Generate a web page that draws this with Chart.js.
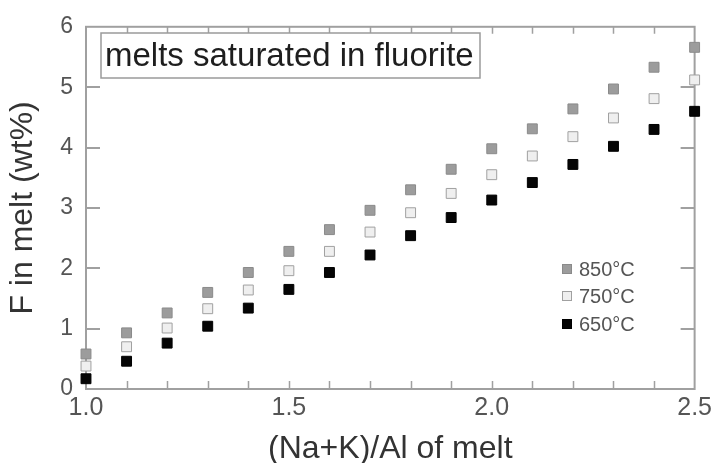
<!DOCTYPE html>
<html>
<head>
<meta charset="utf-8">
<script src="https://cdn.jsdelivr.net/npm/chart.js@4.4.0/dist/chart.umd.min.js"></script>
<style>
  html, body { margin: 0; padding: 0; background: #fff; }
  #wrap { width: 716px; height: 463px; position: relative; }
</style>
</head>
<body>
<div id="wrap"><canvas id="c" width="716" height="463"></canvas></div>
<script>
// ---- data ----
const ratios = [1.0, 1.1, 1.2, 1.3, 1.4, 1.5, 1.6, 1.7, 1.8, 1.9, 2.0, 2.1, 2.2, 2.3, 2.4, 2.5];
const f850 = [0.58, 0.93, 1.26, 1.60, 1.93, 2.28, 2.64, 2.96, 3.30, 3.64, 3.98, 4.31, 4.64, 4.97, 5.33, 5.66];
const f750 = [0.38, 0.70, 1.01, 1.33, 1.64, 1.96, 2.28, 2.60, 2.92, 3.24, 3.55, 3.86, 4.18, 4.49, 4.81, 5.12];
const f650 = [0.17, 0.46, 0.76, 1.04, 1.34, 1.65, 1.93, 2.22, 2.54, 2.84, 3.13, 3.42, 3.72, 4.02, 4.30, 4.60];
const seriesNames = ['850°C', '750°C', '650°C'];
const xLabelTicks = [1.0, 1.5, 2.0, 2.5];
const annotationText = 'melts saturated in fluorite';
const xTitle = '(Na+K)/Al of melt';
const yTitle = 'F in melt (wt%)';

const pts = (ys) => ratios.map((x, i) => ({ x: x, y: ys[i] }));

const styles = [
  { bg: '#9c9c9c', border: '#8a8a8a' },
  { bg: '#efefef', border: '#a0a0a0' },
  { bg: '#050505', border: '#000000' }
];

const axisColor = '#a0a0a0';
const FONT = '"Liberation Sans", Arial, sans-serif';

const framePlugin = {
  id: 'frame',
  beforeDatasetsDraw(chart) {
    const { ctx, chartArea: a, scales } = chart;
    const xs = scales.x, ys = scales.y;
    ctx.save();
    ctx.strokeStyle = axisColor;
    ctx.lineWidth = 2;
    ctx.strokeRect(a.left, a.top, a.right - a.left, a.bottom - a.top);
    // inward ticks x (every 0.1)
    ctx.lineWidth = 1.5;
    for (let i = 1; i < ratios.length - 1; i++) {
      const px = Math.round(xs.getPixelForValue(ratios[i])) + 0.5;
      ctx.beginPath();
      ctx.moveTo(px, a.bottom); ctx.lineTo(px, a.bottom - 8);
      ctx.moveTo(px, a.top); ctx.lineTo(px, a.top + 7);
      ctx.stroke();
    }
    // inward ticks y
    ctx.lineWidth = 2;
    for (let v = 1; v < 6; v++) {
      const py = Math.round(ys.getPixelForValue(v));
      ctx.beginPath();
      ctx.moveTo(a.left, py); ctx.lineTo(a.left + 14, py);
      ctx.moveTo(a.right, py); ctx.lineTo(a.right - 14, py);
      ctx.stroke();
    }
    // annotation box
    ctx.fillStyle = '#ffffff';
    ctx.fillRect(101, 33, 379, 45);
    ctx.strokeStyle = '#9a9a9a';
    ctx.lineWidth = 1.5;
    ctx.strokeRect(101, 33, 379, 45);
    ctx.fillStyle = '#1e1e1e';
    ctx.font = '33px ' + FONT;
    ctx.textBaseline = 'middle';
    ctx.textAlign = 'left';
    ctx.fillText(annotationText, 105, 57);
    // legend
    const ly = [269, 296, 324];
    ctx.font = '20px ' + FONT;
    for (let i = 0; i < 3; i++) {
      ctx.fillStyle = styles[i].bg;
      ctx.strokeStyle = styles[i].border;
      ctx.lineWidth = 1;
      ctx.fillRect(562, ly[i] - 4.5, 9, 9);
      ctx.strokeRect(562.5, ly[i] - 4.5, 9, 9);
      ctx.fillStyle = '#555555';
      ctx.fillText(seriesNames[i], 579, ly[i] + 1);
    }
    ctx.restore();
  }
};

new Chart(document.getElementById('c'), {
  type: 'scatter',
  data: {
    datasets: [
      { label: seriesNames[0], data: pts(f850), backgroundColor: styles[0].bg, borderColor: styles[0].border, clip: false },
      { label: seriesNames[1], data: pts(f750), backgroundColor: styles[1].bg, borderColor: styles[1].border, clip: false },
      { label: seriesNames[2], data: pts(f650), backgroundColor: styles[2].bg, borderColor: styles[2].border, clip: false }
    ]
  },
  options: {
    responsive: false,
    animation: false,
    devicePixelRatio: 1,
    layout: { padding: { left: 0, top: 14, right: 21, bottom: 0 } },
    elements: { point: { pointStyle: 'rect', radius: 7, borderWidth: 1, hoverRadius: 7 } },
    plugins: { legend: { display: false }, tooltip: { enabled: false } },
    scales: {
      x: {
        type: 'linear', min: 1.0, max: 2.5,
        afterFit(s) { s.height = 74; },
        afterBuildTicks(s) { s.ticks = xLabelTicks.map(v => ({ value: v })); },
        grid: { display: false, drawTicks: false },
        border: { display: false },
        ticks: {
          padding: 4, color: '#555555',
          font: { family: FONT, size: 25 },
          callback: (v) => Number(v).toFixed(1)
        },
        title: {
          display: true, text: xTitle, color: '#333333',
          font: { family: FONT, size: 32 },
          padding: { top: 0, bottom: -5 }
        }
      },
      y: {
        type: 'linear', min: 0, max: 6,
        afterFit(s) { s.width = 86; },
        grid: { display: false, drawTicks: false },
        border: { display: false },
        ticks: {
          stepSize: 1, padding: 13, color: '#555555',
          font: { family: FONT, size: 23 }
        },
        title: {
          display: true, text: yTitle, color: '#333333',
          font: { family: FONT, size: 32 },
          padding: { top: 4, bottom: 0 }
        }
      }
    }
  },
  plugins: [framePlugin]
});
</script>
</body>
</html>
